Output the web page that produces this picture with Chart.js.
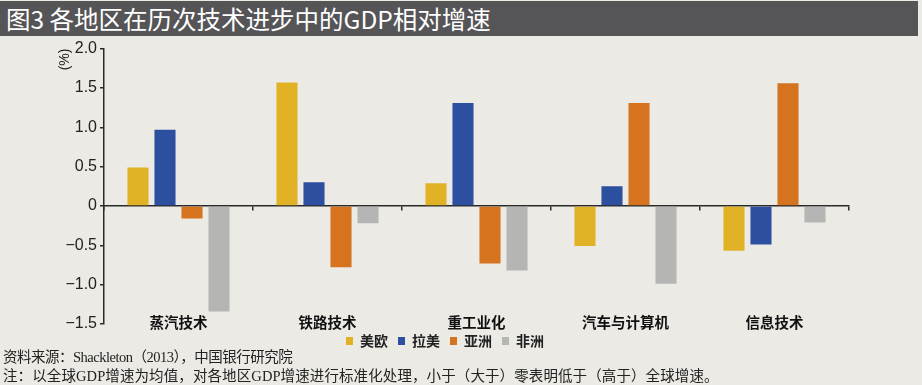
<!DOCTYPE html>
<html>
<head>
<meta charset="utf-8">
<script src="https://cdn.jsdelivr.net/npm/chart.js@4.4.1/dist/chart.umd.min.js"></script>
<style>
    body { margin: 0; background: #ebeae5; }
    #wrap { position: relative; width: 922px; height: 385px; overflow: hidden; background: #ebeae5; }
    #title {
        position: absolute; left: 0; top: 1px; width: 918px; height: 35px;
        background: #555456; color: #fff;
        font: 24.5px "Noto Sans CJK SC", sans-serif; line-height: 35px;
        padding-left: 6px; box-sizing: border-box; white-space: nowrap;
    }
    #chartBox { position: absolute; left: 0; top: 36px; width: 890px; height: 322px; }
    .note {
        position: absolute; left: 3px; color: #222; white-space: nowrap;
        font: 14.5px "Liberation Serif", "Noto Sans CJK SC", serif;
    }
</style>
</head>
<body>
<div id="wrap">
    <div id="title">图3 各地区在历次技术进步中的GDP相对增速</div>
    <div id="chartBox"><canvas id="c" width="890" height="322"></canvas></div>
    <div class="note" style="top:345px; letter-spacing:-0.5px">资料来源：Shackleton（2013），中国银行研究院</div>
    <div class="note" style="top:364px; letter-spacing:0.1px">注：以全球GDP增速为均值，对各地区GDP增速进行标准化处理，小于（大于）零表明低于（高于）全球增速。</div>
</div>
<script>
// data
const categories = ['蒸汽技术', '铁路技术', '重工业化', '汽车与计算机', '信息技术'];
const seriesNames = ['美欧', '拉美', '亚洲', '非洲'];
const usEu   = [0.49, 1.57, 0.29, -0.51, -0.57];
const latAm  = [0.97, 0.30, 1.31, 0.25, -0.49];
const asia   = [-0.16, -0.78, -0.73, 1.31, 1.56];
const africa = [-1.34, -0.22, -0.82, -0.99, -0.21];
const yTicks = [-1.5, -1.0, -0.5, 0, 0.5, 1.0, 1.5, 2.0];

const colors = ['#e2b226', '#2c4f9f', '#d5731f', '#b5b5b3'];
const values = [usEu, latAm, asia, africa];
const axisColor = '#2a2a2a';

const fmt = v => v === 0 ? '0' : (v < 0 ? '\u2212' : '') + Math.abs(v).toFixed(1);

new Chart(document.getElementById('c'), {
    type: 'bar',
    data: {
        labels: categories,
        datasets: seriesNames.map((name, i) => ({
            label: name,
            data: values[i],
            backgroundColor: colors[i],
            borderWidth: 0,
            xAxisID: 'x',
            yAxisID: 'y',
            categoryPercentage: 0.725,
            barPercentage: 0.78
        }))
    },
    options: {
        responsive: false,
        animation: false,
        layout: { padding: { left: 41, right: 41, top: 0, bottom: 0 } },
        plugins: {
            tooltip: { enabled: false },
            legend: {
                position: 'bottom',
                labels: {
                    boxWidth: 7, boxHeight: 8, padding: 10,
                    color: '#222',
                    font: { family: '"Noto Sans CJK SC"', size: 14, weight: 'bold' }
                }
            }
        },
        scales: {
            y: {
                min: -1.5, max: 2.0,
                afterBuildTicks: s => { s.ticks = yTicks.map(v => ({ value: v })); },
                afterFit: s => { s.width = 63; },
                border: { color: axisColor, width: 1.5 },
                grid: { drawOnChartArea: false, drawTicks: true, tickLength: 4, color: axisColor, lineWidth: 1.5 },
                ticks: {
                    padding: 3, color: '#222',
                    font: { family: '"Liberation Sans", Arial', size: 16 },
                    callback: v => fmt(v)
                },
                title: {
                    display: true, text: '(%)', align: 'end', color: '#222',
                    padding: { top: 16, bottom: 0 },
                    font: { family: '"Liberation Sans", Arial', size: 14 }
                }
            },
            x: {
                type: 'category',
                position: { y: 0 },
                offset: true,
                z: 1,
                afterFit: s => { s.height = 0; },
                border: { color: axisColor, width: 1.5 },
                grid: { offset: true, drawOnChartArea: false, drawTicks: true, tickLength: 4, color: axisColor, lineWidth: 1.5 },
                ticks: { display: false }
            },
            xl: {
                type: 'category',
                labels: categories,
                position: { y: -1.5 },
                offset: true,
                afterFit: s => { s.height = 0; },
                border: { display: false },
                grid: { display: false, drawTicks: false },
                ticks: {
                    padding: -10, color: '#111',
                    font: { family: '"Noto Sans CJK SC"', size: 14.5, weight: 'bold' }
                }
            }
        }
    }
});
</script>
</body>
</html>
